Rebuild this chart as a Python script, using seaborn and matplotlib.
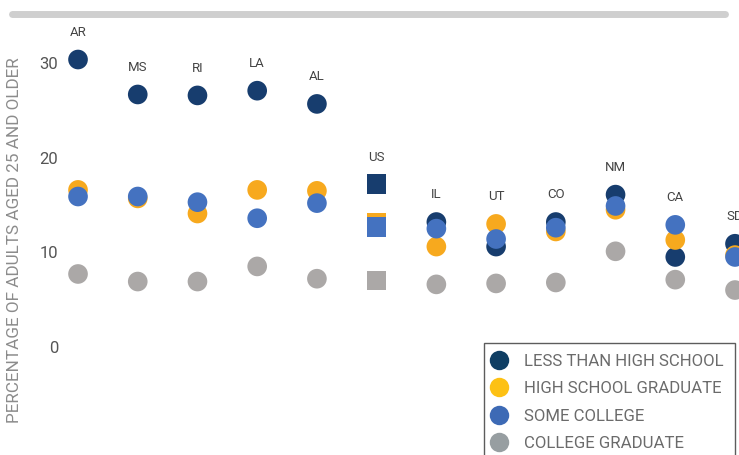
import matplotlib.pyplot as plt
import numpy as np
import pandas as pd
import seaborn as sns
from matplotlib.lines import Line2D

STATES = ["AR", "MS", "RI", "LA", "AL", "US", "IL", "UT", "CO", "NM", "CA", "SD"]
LESS_THAN_HS = [30.4, 26.7, 26.6, 27.1, 25.7, 17.2, 13.2, 10.6, 13.2, 16.1, 9.5, 10.9]
HS_GRADUATE = [16.6, 15.7, 14.1, 16.6, 16.5, 13.1, 10.6, 13.0, 12.2, 14.5, 11.3, 9.7]
SOME_COLLEGE = [15.9, 15.9, 15.3, 13.6, 15.2, 12.7, 12.5, 11.4, 12.6, 14.9, 12.9, 9.5]
COLLEGE_GRAD = [7.7, 6.9, 6.9, 8.5, 7.2, 7.0, 6.6, 6.7, 6.8, 10.1, 7.1, 6.0]

GROUPS = ["LESS THAN HIGH SCHOOL", "HIGH SCHOOL GRADUATE", "SOME COLLEGE", "COLLEGE GRADUATE"]
Y_TICKS = [0, 10, 20, 30]

COLOR_DARK = "#173d6e"
COLOR_ORANGE = "#f7a91e"
COLOR_BLUE = "#4472c0"
COLOR_GRAY = "#aba8a7"
LEGEND_COLORS = ["#0f3e63", "#fdc114", "#3d6ab5", "#979ea1"]

TEXT_DARK = "#444444"
TEXT_LIGHT = "#8c8c8c"

sns.set_theme(style="white")
plt.rcParams["font.family"] = ["Roboto", "DejaVu Sans"]

values = [LESS_THAN_HS, HS_GRADUATE, SOME_COLLEGE, COLLEGE_GRAD]
rows = []
for group, vals in zip(GROUPS, values):
    for i, (state, v) in enumerate(zip(STATES, vals)):
        rows.append(
            {
                "pos": i,
                "state": state,
                "group": group,
                "value": v,
                "kind": "us" if state == "US" else "state",
            }
        )
df = pd.DataFrame(rows)

fig = plt.figure(figsize=(7.39, 4.55), dpi=100)
ax = fig.add_axes([65 / 739, 0.0, 1 - 65 / 739, 1 - 17 / 455])

sns.scatterplot(
    data=df,
    x="pos",
    y="value",
    hue="group",
    hue_order=GROUPS,
    palette=[COLOR_DARK, COLOR_ORANGE, COLOR_BLUE, COLOR_GRAY],
    style="kind",
    markers={"state": "o", "us": "s"},
    s=200,
    linewidth=0,
    legend=False,
    ax=ax,
)

# state label above the highest dot
top_vals = np.max(np.array(values), axis=0)
for i, (state, v) in enumerate(zip(STATES, top_vals)):
    ax.annotate(
        state,
        xy=(i, v),
        xytext=(0, 19.5),
        textcoords="offset points",
        ha="center",
        va="center",
        fontsize=9.5,
        color=TEXT_DARK,
    )

ax.set_xlim(-0.218, 11.067)
ax.set_ylim(-11.46, 34.9)
ax.set_yticks(Y_TICKS)
ax.set_yticklabels([str(t) for t in Y_TICKS], fontsize=12, color="#555555")
ax.tick_params(axis="y", length=0, pad=5)
ax.set_xticks([])
ax.set_xlabel("")
ax.set_ylabel(
    "PERCENTAGE OF ADULTS AGED 25 AND OLDER",
    fontsize=12.3,
    color=TEXT_LIGHT,
    fontweight="normal",
)
ax.yaxis.set_label_coords(-43 / 674, (455 - 240) / 438)
for side in ["top", "right", "bottom", "left"]:
    ax.spines[side].set_visible(False)

# gray band across the top
fig.add_artist(
    Line2D([12 / 739, 725 / 739], [1 - 13.5 / 455] * 2, lw=5, color="#cfcfcf")
)

handles = [
    Line2D([], [], marker="o", ls="", markersize=14, markeredgewidth=0, color=c)
    for c in LEGEND_COLORS
]
leg = fig.legend(
    handles,
    GROUPS,
    loc="upper left",
    bbox_to_anchor=(484 / 739, 1 - 343 / 455),
    frameon=True,
    fancybox=False,
    fontsize=12.1,
    labelspacing=0.74,
    handletextpad=1.25,
    handlelength=0.5,
    borderpad=0.64,
    borderaxespad=0,
    labelcolor="#6b6b6b",
)
leg.get_frame().set_edgecolor("#333333")
leg.get_frame().set_linewidth(1.0)

fig.savefig("out.png", dpi=100)
